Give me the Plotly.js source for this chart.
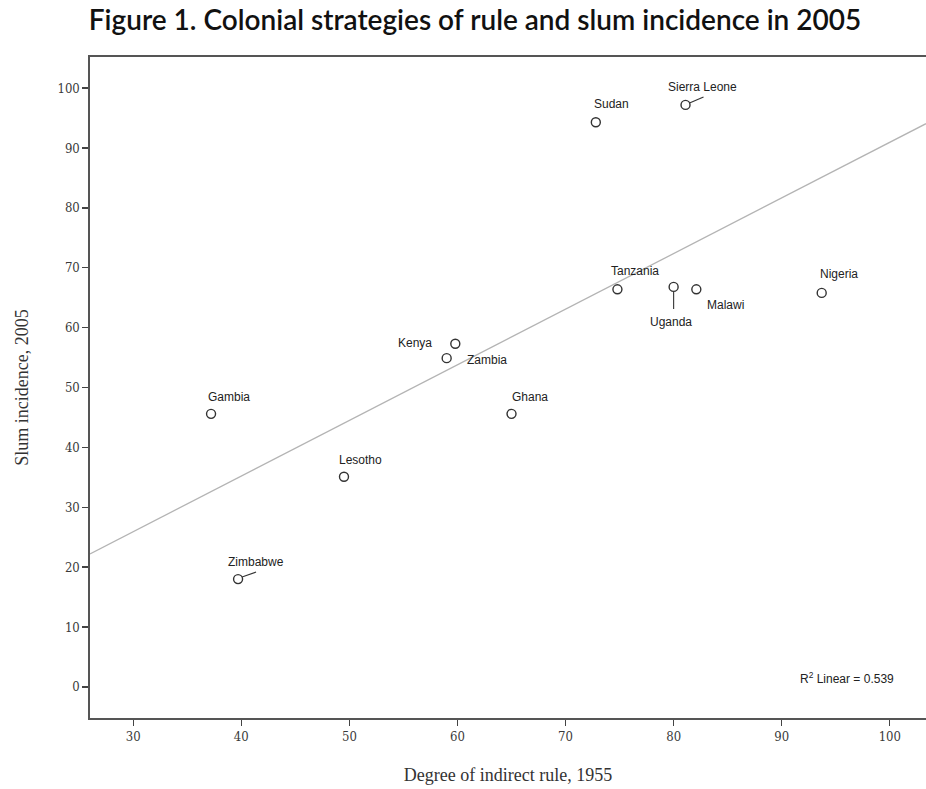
<!DOCTYPE html>
<html><head><meta charset="utf-8">
<script src="https://cdn.plot.ly/plotly-3.0.1.min.js"></script>
<style>html,body{margin:0;padding:0;background:#fff}#chart{width:926px;height:789px}</style>
</head><body><div id="chart"></div>
<script>
const countries = ["Sudan","Sierra Leone","Tanzania","Uganda","Malawi","Nigeria","Kenya","Zambia","Gambia","Ghana","Lesotho","Zimbabwe"];
const indirectRule = [72.8, 81.1, 74.8, 80.0, 82.1, 93.7, 59.8, 59.0, 37.2, 65.0, 49.5, 39.7];
const slumIncidence = [94.3, 97.2, 66.4, 66.8, 66.4, 65.8, 57.3, 54.9, 45.6, 45.6, 35.1, 18.0];
const fitSlope = 0.929;
const fitIntercept = -1.95;
const r2Text = "R<sup>2</sup> Linear = 0.539";
const xTicks = [30, 40, 50, 60, 70, 80, 90, 100];
const yTicks = [0, 10, 20, 30, 40, 50, 60, 70, 80, 90, 100];

const xRange = [26, 103.35];
const yRange = [-5.2, 105.2];

// label offsets in pixels (text center relative to point)
const labelOffsets = {
  "Sudan": [16, 18], "Sierra Leone": [17, 18], "Tanzania": [18, 18], "Uganda": [-3, -35],
  "Malawi": [29, -16], "Nigeria": [17, 19], "Kenya": [-40, 1], "Zambia": [40, -2],
  "Gambia": [18, 17], "Ghana": [18, 17], "Lesotho": [17, 17], "Zimbabwe": [18, 17]
};
// leader lines: [start dx, start dy, end dx, end dy] in pixels (dy upward)
const leaders = {"Sierra Leone": [4, 2, 18, 8], "Uganda": [0, -5, 0, -22], "Zimbabwe": [4, 2, 18, 7]};

const labelFont = {family: "Liberation Sans, Arial, sans-serif", size: 12, color: "#222"};
const annotations = countries.map((c, i) => ({
  x: indirectRule[i], y: slumIncidence[i], xref: "x", yref: "y",
  text: c, showarrow: false, font: labelFont,
  xshift: labelOffsets[c][0], yshift: labelOffsets[c][1]
}));
annotations.push({
  xref: "paper", yref: "paper", x: 0.905, y: 0.0605, xanchor: "center", yanchor: "middle",
  text: r2Text, showarrow: false,
  font: {family: "Liberation Sans, Arial, sans-serif", size: 12, color: "#222"}
});

const shapes = [];
countries.forEach((c, i) => {
  const L = leaders[c];
  if (L) {
    shapes.push({
      type: "line", xref: "x", yref: "y", xsizemode: "pixel", ysizemode: "pixel",
      xanchor: indirectRule[i], yanchor: slumIncidence[i],
      x0: L[0], y0: L[1], x1: L[2], y1: L[3],
      line: {color: "#333", width: 1.1}
    });
  }
});

const fitX = xRange;
const fitY = fitX.map(v => fitIntercept + fitSlope * v);

const data = [
  {x: fitX, y: fitY, mode: "lines", line: {color: "#b4b4b4", width: 1.3}, hoverinfo: "skip"},
  {x: indirectRule, y: slumIncidence, mode: "markers", text: countries,
   marker: {symbol: "circle-open", size: 9, color: "#333", line: {width: 1.4, color: "#333"}}}
];

const tickFont = {family: "DejaVu Serif Condensed, Liberation Serif, serif", size: 13, color: "#3a3a3a"};
const layout = {
  width: 926, height: 789,
  margin: {l: 90, r: 0, t: 57, b: 71},
  paper_bgcolor: "#fff", plot_bgcolor: "#fff",
  showlegend: false,
  title: {text: "Figure 1. Colonial strategies of rule and slum incidence in 2005",
    xref: "container", yref: "container", x: 0.513, xanchor: "center", y: 0.975, yanchor: "middle",
    font: {family: "Lato, sans-serif", size: 28, color: "#111", weight: 600}},
  xaxis: {range: xRange, tickvals: xTicks, ticks: "outside", ticklen: 6, tickcolor: "#444", tickwidth: 1.3,
    showgrid: false, zeroline: false, showline: true, linecolor: "#555", linewidth: 1.6, mirror: true,
    tickfont: tickFont,
    title: {text: "Degree of indirect rule, 1955", standoff: 25,
      font: {family: "Liberation Serif, Times New Roman, serif", size: 18, color: "#333"}}},
  yaxis: {range: yRange, tickvals: yTicks, ticks: "outside", ticklen: 6, tickcolor: "#444", tickwidth: 1.3,
    showgrid: false, zeroline: false, showline: true, linecolor: "#555", linewidth: 1.6, mirror: false,
    tickfont: tickFont,
    title: {text: "Slum incidence, 2005", standoff: 24,
      font: {family: "Liberation Serif, Times New Roman, serif", size: 18, color: "#333"}}},
  shapes: shapes,
  annotations: annotations
};
Plotly.newPlot("chart", data, layout, {displayModeBar: false, staticPlot: true});
</script></body></html>
